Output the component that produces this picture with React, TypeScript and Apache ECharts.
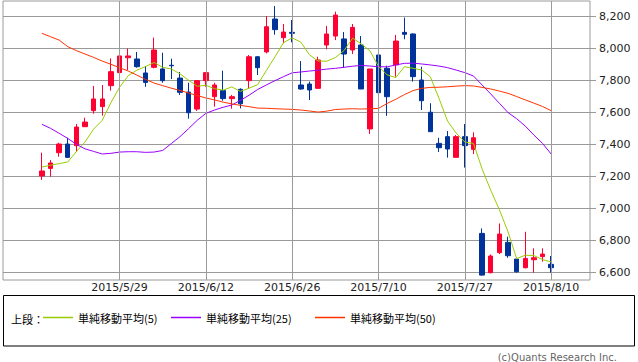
import { useEffect, useRef } from 'react';
import * as echarts from 'echarts';

const dates = [
  '2015/5/18', '2015/5/19', '2015/5/20', '2015/5/21', '2015/5/22',
  '2015/5/25', '2015/5/26', '2015/5/27', '2015/5/28', '2015/5/29',
  '2015/6/1', '2015/6/2', '2015/6/3', '2015/6/4', '2015/6/5',
  '2015/6/8', '2015/6/9', '2015/6/10', '2015/6/11', '2015/6/12',
  '2015/6/15', '2015/6/16', '2015/6/17', '2015/6/18', '2015/6/19',
  '2015/6/22', '2015/6/23', '2015/6/24', '2015/6/25', '2015/6/26',
  '2015/6/29', '2015/6/30', '2015/7/1', '2015/7/2', '2015/7/3',
  '2015/7/6', '2015/7/7', '2015/7/8', '2015/7/9', '2015/7/10',
  '2015/7/13', '2015/7/14', '2015/7/15', '2015/7/16', '2015/7/17',
  '2015/7/21', '2015/7/22', '2015/7/23', '2015/7/24',
  '2015/7/27', '2015/7/28', '2015/7/29', '2015/7/30', '2015/7/31',
  '2015/8/3', '2015/8/4', '2015/8/5', '2015/8/6', '2015/8/7',
  '2015/8/10',
];

const opens = [
  7203, 7250, 7348, 7402, 7392, 7510, 7610, 7635, 7766, 7847,
  7940, 7932, 7845, 7880, 7870, 7893, 7813, 7726, 7620, 7797,
  7697, 7735, 7685, 7743, 7797, 7946, 7976, 8181, 8065, 8098,
  7770, 7776, 7749, 8019, 8075, 8057, 7988, 8019, 7496, 7957,
  7874, 7895, 8098, 8088, 7801, 7600, 7406, 7448, 7319, 7448,
  7369, 6845, 6600, 6725, 6789, 6685, 6631, 6681, 6700, 6652,
];
const closes = [
  7234, 7284, 7402, 7319, 7508, 7539, 7683, 7683, 7853, 7951,
  7951, 7884, 7786, 7988, 7797, 7890, 7724, 7597, 7797, 7847,
  7770, 7685, 7697, 7653, 7946, 7878, 8133, 8115, 8100, 8092,
  7745, 7739, 7926, 8088, 8206, 7963, 8129, 7745, 7870, 7722,
  7697, 8044, 8086, 7822, 7672, 7479, 7379, 7371, 7448, 7392,
  7441, 6585, 6704, 6841, 6706, 6606, 6689, 6693, 6716, 6631,
];
const lows = [
  7178, 7198, 7323, 7315, 7354, 7510, 7591, 7579, 7735, 7822,
  7863, 7878, 7759, 7874, 7784, 7807, 7708, 7560, 7608, 7759,
  7635, 7672, 7622, 7624, 7749, 7832, 7967, 8084, 8030, 8036,
  7740, 7676, 7749, 7992, 8050, 7878, 7963, 7745, 7464, 7629,
  7577, 7822, 8055, 7791, 7614, 7479, 7352, 7317, 7319, 7255,
  7340, 6581, 6596, 6716, 6693, 6600, 6627, 6600, 6669, 6600,
];
const highs = [
  7348, 7302, 7410, 7441, 7527, 7566, 7764, 7770, 7936, 8005,
  7998, 7976, 7888, 8065, 7971, 7934, 7851, 7784, 7801, 7850,
  7784, 7859, 7708, 7749, 7957, 7951, 8200, 8262, 8150, 8175,
  7919, 7791, 7946, 8138, 8227, 8100, 8150, 8075, 7870, 7971,
  7890, 8082, 8190, 8092, 7884, 7656, 7441, 7483, 7458, 7527,
  7475, 6876, 6714, 6907, 6824, 6685, 6855, 6752, 6752, 6704,
];

const ma5 = [
  7258, 7270, 7280, 7290, 7355, 7415, 7495, 7550, 7660, 7755,
  7828, 7862, 7885, 7910, 7880, 7870, 7840, 7800, 7762, 7768,
  7747, 7738, 7758, 7730, 7750, 7772, 7860, 7945, 8034, 8064,
  8037, 7958, 7920, 7918, 7941, 7984, 8062, 8026, 7983, 7886,
  7833, 7816, 7884, 7874, 7864, 7821, 7688, 7545, 7470, 7414,
  7406, 7247, 7114, 6993, 6855, 6688, 6709, 6707, 6682, 6667,
];
const ma25 = [
  7525, 7500, 7469, 7437, 7400, 7372, 7356, 7340, 7344, 7352,
  7354, 7354, 7350, 7352, 7362, 7405, 7448, 7498, 7550, 7593,
  7614, 7631, 7645, 7674, 7706, 7742, 7770, 7797, 7822, 7846,
  7851, 7857, 7862, 7869, 7874, 7880, 7887, 7892, 7888, 7884,
  7883, 7895, 7905, 7906, 7901, 7895, 7888, 7878, 7863, 7847,
  7826, 7770, 7714, 7656, 7598, 7560, 7514, 7458, 7406, 7340,
];
const ma50 = [
  8092, 8071, 8050, 8009, 7984, 7963, 7942, 7919, 7899, 7878,
  7857, 7832, 7805, 7782, 7766, 7750, 7736, 7720, 7704, 7689,
  7677, 7663, 7652, 7643, 7635, 7626, 7625, 7622, 7620, 7618,
  7614, 7608, 7601, 7607, 7617, 7620, 7622, 7620, 7622, 7624,
  7655, 7681, 7710, 7735, 7749, 7755, 7756, 7759, 7763, 7766,
  7764, 7755, 7745, 7732, 7718, 7698, 7677, 7657, 7636, 7610,
];

const labelDates = ['2015/5/29', '2015/6/12', '2015/6/26', '2015/7/10', '2015/7/27', '2015/8/10'];
const seriesNames = ['単純移動平均(5)', '単純移動平均(25)', '単純移動平均(50)'];
const seriesColors = ['#99cc00', '#9900ff', '#ff3300'];
const legendLefts = [43, 171, 315];
const Y_MIN = 6600;
const Y_MAX = 8200;
const Y_STEP = 200;
const LEAD = 4;
const TRAIL = 4;

const GRID_COLOR = '#9a9a9a';
const UP = '#ff0033';
const DOWN = '#003399';

export default function App() {
  const ref = useRef<HTMLDivElement>(null);

  useEffect(() => {
    if (!ref.current) return;
    const chart = echarts.init(ref.current, null, { renderer: 'svg' });

    const categories = [
      ...Array.from({ length: LEAD }, (_, i) => `lead-${i}`),
      ...dates,
      ...Array.from({ length: TRAIL }, (_, i) => `trail-${i}`),
    ];

    const candleData = dates.map((d, i) => [d, opens[i], closes[i], lows[i], highs[i]]);
    const maSets = [ma5, ma25, ma50];

    const option: any = {
      animation: false,
      backgroundColor: '#ffffff',
      grid: [
        {
          left: 3,
          top: 1,
          width: 587,
          height: 279,
          show: true,
          borderColor: GRID_COLOR,
          borderWidth: 1,
          backgroundColor: 'transparent',
        },
        { left: 3, top: 16, width: 587, height: 256.7 },
      ],
      xAxis: [
        {
          gridIndex: 0,
          type: 'category',
          data: categories,
          boundaryGap: true,
          axisLine: { show: false },
          axisTick: { show: false },
          splitLine: { show: false },
          axisLabel: {
            interval: (_i: number, v: string) => labelDates.includes(v),
            margin: 2,
            fontSize: 11,
            fontFamily: '"DejaVu Sans"',
            color: '#222',
          },
        },
        {
          gridIndex: 1,
          type: 'category',
          data: categories,
          boundaryGap: true,
          show: false,
        },
      ],
      yAxis: [
        { gridIndex: 0, type: 'value', min: 0, max: 1, show: false },
        {
          gridIndex: 1,
          type: 'value',
          position: 'right',
          min: Y_MIN,
          max: Y_MAX,
          interval: Y_STEP,
          axisLine: { show: false },
          axisTick: { show: true, length: 6, lineStyle: { color: GRID_COLOR } },
          splitLine: { show: true, lineStyle: { color: GRID_COLOR, width: 1 } },
          axisLabel: {
            margin: 9,
            fontSize: 11,
            fontFamily: '"DejaVu Sans"',
            color: '#222',
            showMinLabel: true,
            showMaxLabel: true,
            formatter: (v: number) => v.toLocaleString('en-US'),
          },
        },
      ],
      legend: seriesNames.map((n, i) => ({
        data: [n],
        left: legendLefts[i],
        top: 312,
        padding: 0,
        itemWidth: 30,
        itemHeight: 1.5,
        icon: 'rect',
        selectedMode: false,
        textStyle: { fontSize: 11, fontFamily: '"Noto Sans CJK JP"', color: '#000' },
      })),
      series: [
        {
          type: 'line',
          name: 'grid-v',
          xAxisIndex: 0,
          yAxisIndex: 0,
          data: [],
          silent: true,
          markLine: {
            silent: true,
            symbol: ['none', 'none'],
            label: { show: false },
            lineStyle: { color: GRID_COLOR, type: 'solid', width: 1 },
            data: labelDates.map((d) => ({ xAxis: d })),
          },
        },
        {
          type: 'candlestick',
          name: 'price',
          xAxisIndex: 1,
          yAxisIndex: 1,
          clip: false,
          barWidth: 5,
          encode: { x: 0, y: [1, 2, 3, 4] },
          data: candleData,
          itemStyle: {
            color: UP,
            color0: DOWN,
            borderColor: UP,
            borderColor0: DOWN,
            borderWidth: 1,
          },
        },
        ...maSets.map((arr, k) => ({
          type: 'line',
          name: seriesNames[k],
          xAxisIndex: 1,
          yAxisIndex: 1,
          symbol: 'none',
          showSymbol: false,
          color: seriesColors[k],
          lineStyle: { color: seriesColors[k], width: 1 },
          data: dates.map((d, i) => [d, arr[i]]),
        })),
      ],
      graphic: [
        {
          type: 'rect',
          shape: { x: 3.5, y: 295.5, width: 631, height: 50.5 },
          style: { fill: 'none', stroke: '#000', lineWidth: 1 },
        },
        {
          type: 'text',
          x: 11,
          y: 318.5,
          style: {
            text: '上段：',
            font: '11px "Noto Sans CJK JP"',
            fill: '#000',
            verticalAlign: 'middle',
          },
        },
        {
          type: 'text',
          x: 617,
          y: 357.5,
          style: {
            text: '(c)Quants Research Inc.',
            font: '10px "DejaVu Sans"',
            fill: '#666',
            align: 'right',
            verticalAlign: 'middle',
          },
        },
      ],
    };

    chart.setOption(option);
    return () => chart.dispose();
  }, []);

  return (
    <div
      ref={ref}
      style={{ position: 'fixed', left: 0, top: 0, width: 638, height: 362, background: '#fff' }}
    />
  );
}
